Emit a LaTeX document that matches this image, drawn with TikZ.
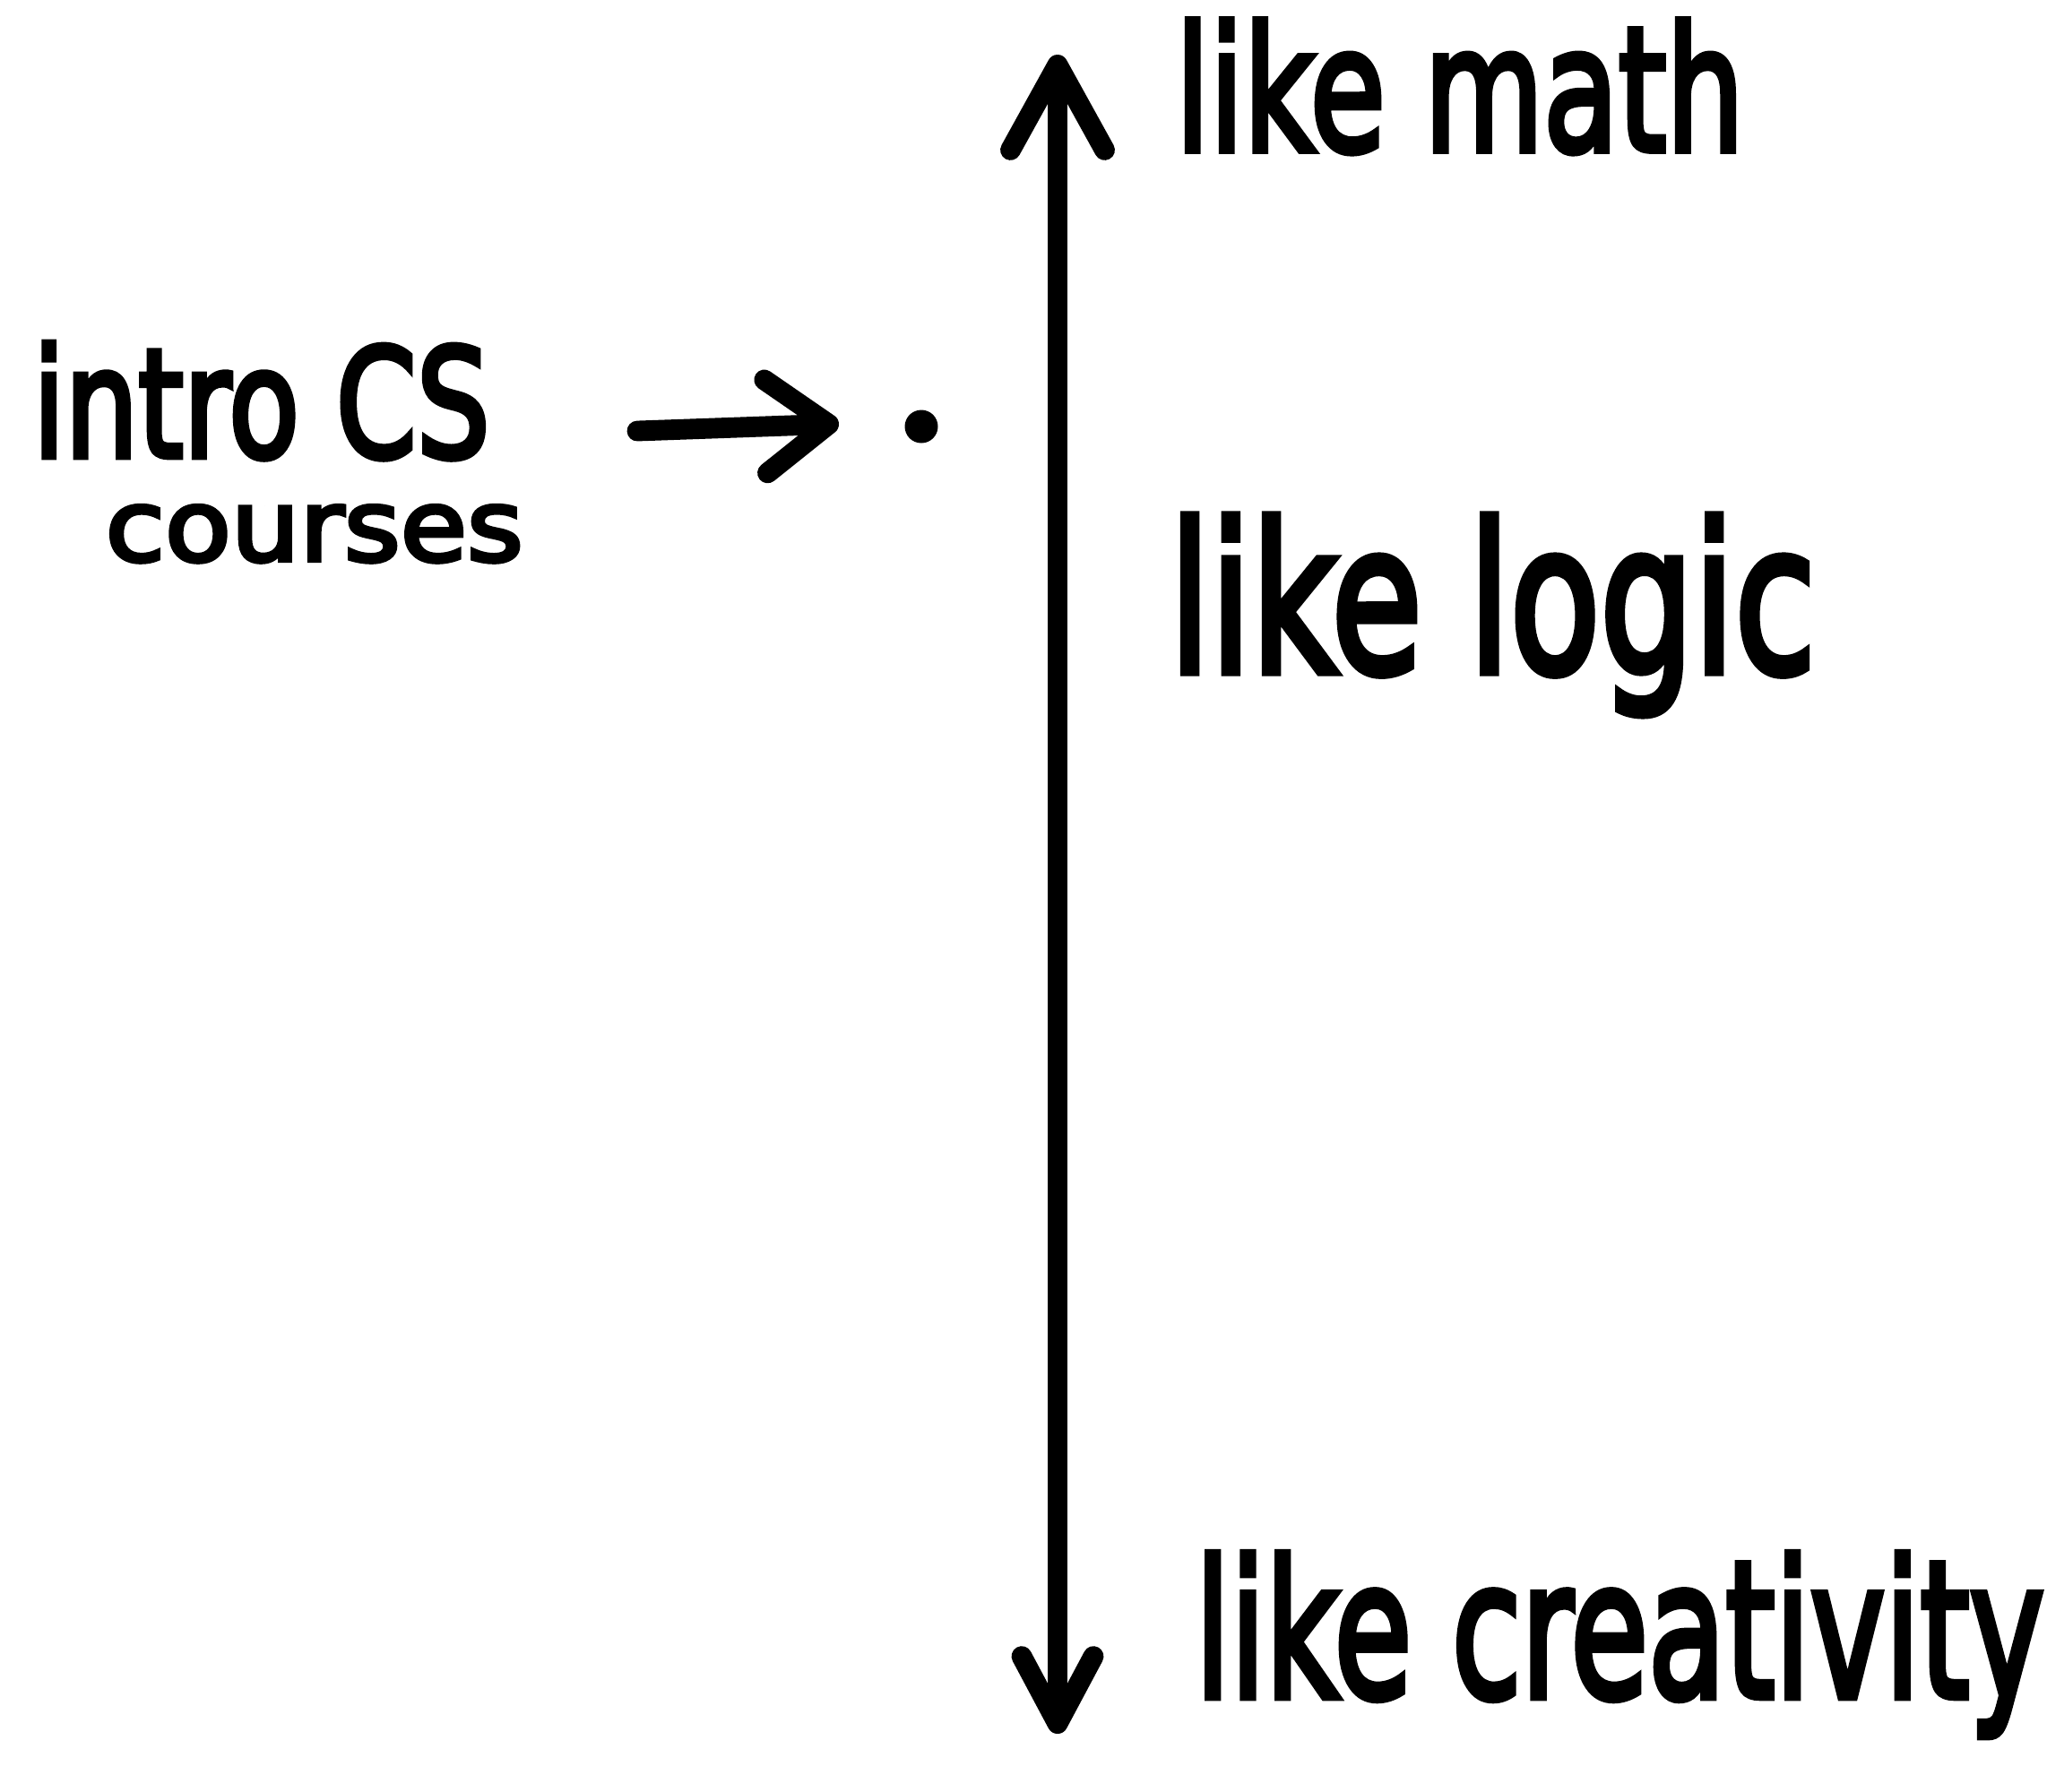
\documentclass[tikz,border=0pt]{standalone}
\usepackage{fontspec}
\setmainfont{DejaVu Sans}
\newfontfamily\handfont[FakeBold=4]{DejaVu Sans}
\usetikzlibrary{arrows.meta}
\tikzset{
  lbl/.style={inner sep=0pt, anchor=base west, font=\handfont},
  axisline/.style={line width=6pt, line cap=round},
  pointer/.style={line width=6.5pt, line cap=round, line join=round},
}
\begin{document}
\begin{tikzpicture}
\useasboundingbox[fill=white] (0,0) rectangle (22.84,-19.99);
% axis ends
\coordinate (top) at (11.80,-0.61);
\coordinate (bot) at (11.80,-19.35);
\draw[axisline, {Straight Barb[round,length=9.5mm,width=10.5mm,line width=6.5pt]}-{Straight Barb[round,length=7.5mm,width=8mm,line width=6.5pt]}] (top) -- (bot);
% labels
\node[lbl] (math) at (13.11,-1.68) {\resizebox{6.34cm}{1.46cm}{like math}};
\node[lbl] (logic) at (13.04,-7.50) {\resizebox{7.21cm}{1.75cm}{like logic}};
\node[lbl] (creat) at (13.33,-18.94) {\resizebox{9.47cm}{1.61cm}{like creativity}};
\node[lbl] (intro) at (0.36,-5.10) {\resizebox{5.10cm}{1.28cm}{intro CS}};
\node[lbl] (courses) at (1.17,-6.26) {\resizebox{4.66cm}{0.62cm}{courses}};
% dot
\node[circle, fill=black, inner sep=0pt, minimum size=0.37cm] (dot) at (10.28,-4.76) {};
% pointer arrow
\coordinate (pstart) at (7.11,-4.81);
\coordinate (pend) at (9.36,-4.73);
\draw[pointer, -{Straight Barb[round,length=7mm,width=10.4mm,line width=6.5pt]}] (pstart) -- (pend);
\end{tikzpicture}
\end{document}
